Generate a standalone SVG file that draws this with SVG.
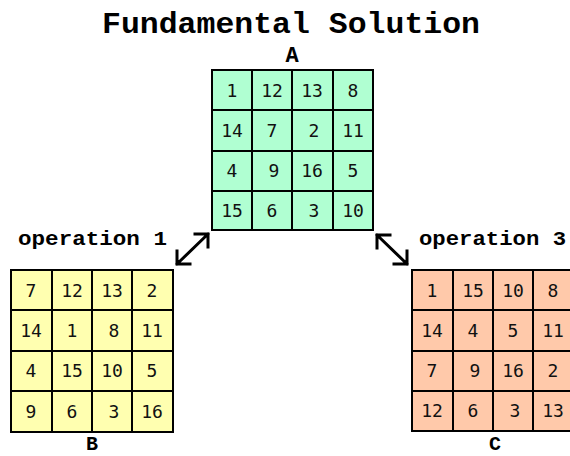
<svg xmlns="http://www.w3.org/2000/svg" width="570" height="456" viewBox="0 0 570 456">
<style>
.t{font-family:"Liberation Mono","Courier New",monospace;font-weight:bold;fill:#000}
.n{font-family:"DejaVu Sans Mono","Liberation Mono",monospace;font-size:18px;fill:#111;text-anchor:middle}
.g{stroke:#000;stroke-width:2}
.ln{stroke:#000;stroke-width:2;fill:none}
.ar{stroke:#000;stroke-width:3;fill:none;stroke-linecap:square}
</style>
<rect width="570" height="456" fill="#fff"/>
<text class="t" x="102" y="33" font-size="30" textLength="378" lengthAdjust="spacingAndGlyphs">Fundamental Solution</text>

<g id="A">
<text class="t" x="292" y="62" font-size="22" text-anchor="middle">A</text>
<rect x="212" y="70" width="161" height="160" fill="#b0ffd2" class="g"/>
<path class="ln" d="M252,70V230M292,70V230M333,70V230M212,110H373M212,151H373M212,191H373"/>
<g class="n">
<text x="232" y="97">1</text><text x="272" y="97">12</text><text x="312" y="97">13</text><text x="353" y="97">8</text>
<text x="232" y="137">14</text><text x="272" y="137">7</text><text x="314" y="137">2</text><text x="353" y="137">11</text>
<text x="232" y="177">4</text><text x="274" y="177">9</text><text x="312" y="177">16</text><text x="353" y="177">5</text>
<text x="232" y="217">15</text><text x="272" y="217">6</text><text x="314" y="217">3</text><text x="353" y="217">10</text>
</g>
</g>

<g id="B">
<text class="t" x="18" y="245" font-size="21" textLength="149" lengthAdjust="spacingAndGlyphs">operation 1</text>
<rect x="11" y="270" width="162" height="162" fill="#ffffb0" class="g"/>
<path class="ln" d="M52,270V432M92,270V432M132,270V432M11,310H173M11,351H173M11,391H173"/>
<g class="n">
<text x="31" y="297">7</text><text x="72" y="297">12</text><text x="112" y="297">13</text><text x="152" y="297">2</text>
<text x="31" y="337">14</text><text x="72" y="337">1</text><text x="114" y="337">8</text><text x="152" y="337">11</text>
<text x="31" y="377">4</text><text x="72" y="377">15</text><text x="112" y="377">10</text><text x="152" y="377">5</text>
<text x="31" y="418">9</text><text x="72" y="418">6</text><text x="114" y="418">3</text><text x="152" y="418">16</text>
</g>
<text class="t" x="92" y="450" font-size="20" text-anchor="middle">B</text>
</g>

<g id="C">
<text class="t" x="419" y="245" font-size="21" textLength="147" lengthAdjust="spacingAndGlyphs">operation 3</text>
<rect x="412" y="270" width="162" height="161" fill="#ffc9aa" class="g"/>
<path class="ln" d="M453,270V431M493,270V431M533,270V431M412,310H574M412,351H574M412,391H574"/>
<g class="n">
<text x="432" y="297">1</text><text x="473" y="297">15</text><text x="513" y="297">10</text><text x="553" y="297">8</text>
<text x="432" y="337">14</text><text x="473" y="337">4</text><text x="513" y="337">5</text><text x="553" y="337">11</text>
<text x="432" y="377">7</text><text x="475" y="377">9</text><text x="513" y="377">16</text><text x="553" y="377">2</text>
<text x="432" y="417">12</text><text x="473" y="417">6</text><text x="515" y="417">3</text><text x="553" y="417">13</text>
</g>
<text class="t" x="495" y="450" font-size="20" text-anchor="middle">C</text>
</g>

<g id="connectors">
<path class="ar" d="M177,264L208,234M195,234H208V247M177,251V264H190"/>
<path class="ar" d="M377,235L407,264M377,248V235H390M407,251V264H394"/>
</g>
</svg>
